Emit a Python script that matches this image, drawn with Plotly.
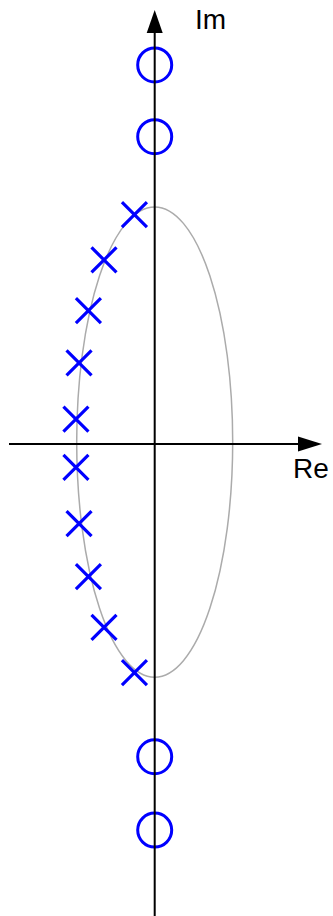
import plotly.graph_objects as go

# Pole-zero plot of a filter in the complex s-plane
pole_re = [-0.26, -0.65, -0.85, -0.97, -1.01, -1.01, -0.97, -0.85, -0.65, -0.26]
pole_im = [2.94, 2.36, 1.71, 1.04, 0.32, -0.30, -1.02, -1.70, -2.35, -2.93]
zero_re = [0.0, 0.0, 0.0, 0.0]
zero_im = [4.86, 3.94, -4.01, -4.95]

# guide ellipse through the poles (semi-axes in plane units)
ellipse_re = [-1.0, 1.0]
ellipse_im = [-2.99, 3.04]

axis_labels = ["Re", "Im"]

W, H = 333, 916
PX = 78.0                 # pixels per unit of the plane
ORIGIN = (154.7, 444.0)   # pixel position of s = 0

x_range = [-ORIGIN[0] / PX, (W - ORIGIN[0]) / PX]
y_range = [-(H - ORIGIN[1]) / PX, ORIGIN[1] / PX]


def ux(px):
    """pixel offset -> plane units"""
    return px / PX


BLUE = "#0000ff"
AXIS_W = 2

fig = go.Figure()

fig.add_trace(go.Scatter(
    x=pole_re, y=pole_im, mode="markers",
    marker=dict(symbol="x-thin", size=25, line=dict(color=BLUE, width=3.2)),
    hoverinfo="x+y", showlegend=False,
))
fig.add_trace(go.Scatter(
    x=zero_re, y=zero_im, mode="markers",
    marker=dict(symbol="circle-open", size=34, color=BLUE, line=dict(color=BLUE, width=3)),
    hoverinfo="x+y", showlegend=False,
))

shapes = []
# ellipse
shapes.append(dict(type="circle", xref="x", yref="y",
                   x0=ellipse_re[0], x1=ellipse_re[1], y0=ellipse_im[0], y1=ellipse_im[1],
                   line=dict(color="#ababab", width=1.5), layer="below"))

# real axis with arrow head
re_start = x_range[0] + ux(9)
re_tip = x_range[1] - ux(11)
head_len = ux(24)
head_half = ux(7.5)
shapes.append(dict(type="line", xref="x", yref="y", x0=re_start, x1=re_tip - head_len,
                   y0=0, y1=0, line=dict(color="black", width=AXIS_W), layer="above"))
shapes.append(dict(type="path", xref="x", yref="y",
                   path=f"M {re_tip} 0 L {re_tip - head_len} {head_half} L {re_tip - head_len} {-head_half} Z",
                   fillcolor="black", line=dict(color="black", width=0), layer="above"))

# imaginary axis with arrow head
im_tip = y_range[1] - ux(10)
im_head_len = ux(23)
im_head_half = ux(8)
shapes.append(dict(type="line", xref="x", yref="y", x0=0, x1=0,
                   y0=y_range[0], y1=im_tip - im_head_len,
                   line=dict(color="black", width=AXIS_W), layer="above"))
shapes.append(dict(type="path", xref="x", yref="y",
                   path=f"M 0 {im_tip} L {im_head_half} {im_tip - im_head_len} L {-im_head_half} {im_tip - im_head_len} Z",
                   fillcolor="black", line=dict(color="black", width=0), layer="above"))

label_font = dict(family="Liberation Sans, Arial, sans-serif", size=28, color="black")
annotations = [
    dict(x=ux(291 - ORIGIN[0]), y=-ux(468 - ORIGIN[1]), xref="x", yref="y",
         text=axis_labels[0], showarrow=False, xanchor="left", yanchor="middle", font=label_font),
    dict(x=ux(193 - ORIGIN[0]), y=ux(ORIGIN[1] - 19), xref="x", yref="y",
         text=axis_labels[1], showarrow=False, xanchor="left", yanchor="middle", font=label_font),
]

fig.update_layout(
    width=W, height=H, autosize=False,
    margin=dict(l=0, r=0, t=0, b=0, pad=0),
    paper_bgcolor="white", plot_bgcolor="white",
    xaxis=dict(range=x_range, visible=False, fixedrange=True),
    yaxis=dict(range=y_range, visible=False, fixedrange=True),
    shapes=shapes, annotations=annotations,
    showlegend=False,
)

fig.write_html("out.html", config={"displayModeBar": False})
